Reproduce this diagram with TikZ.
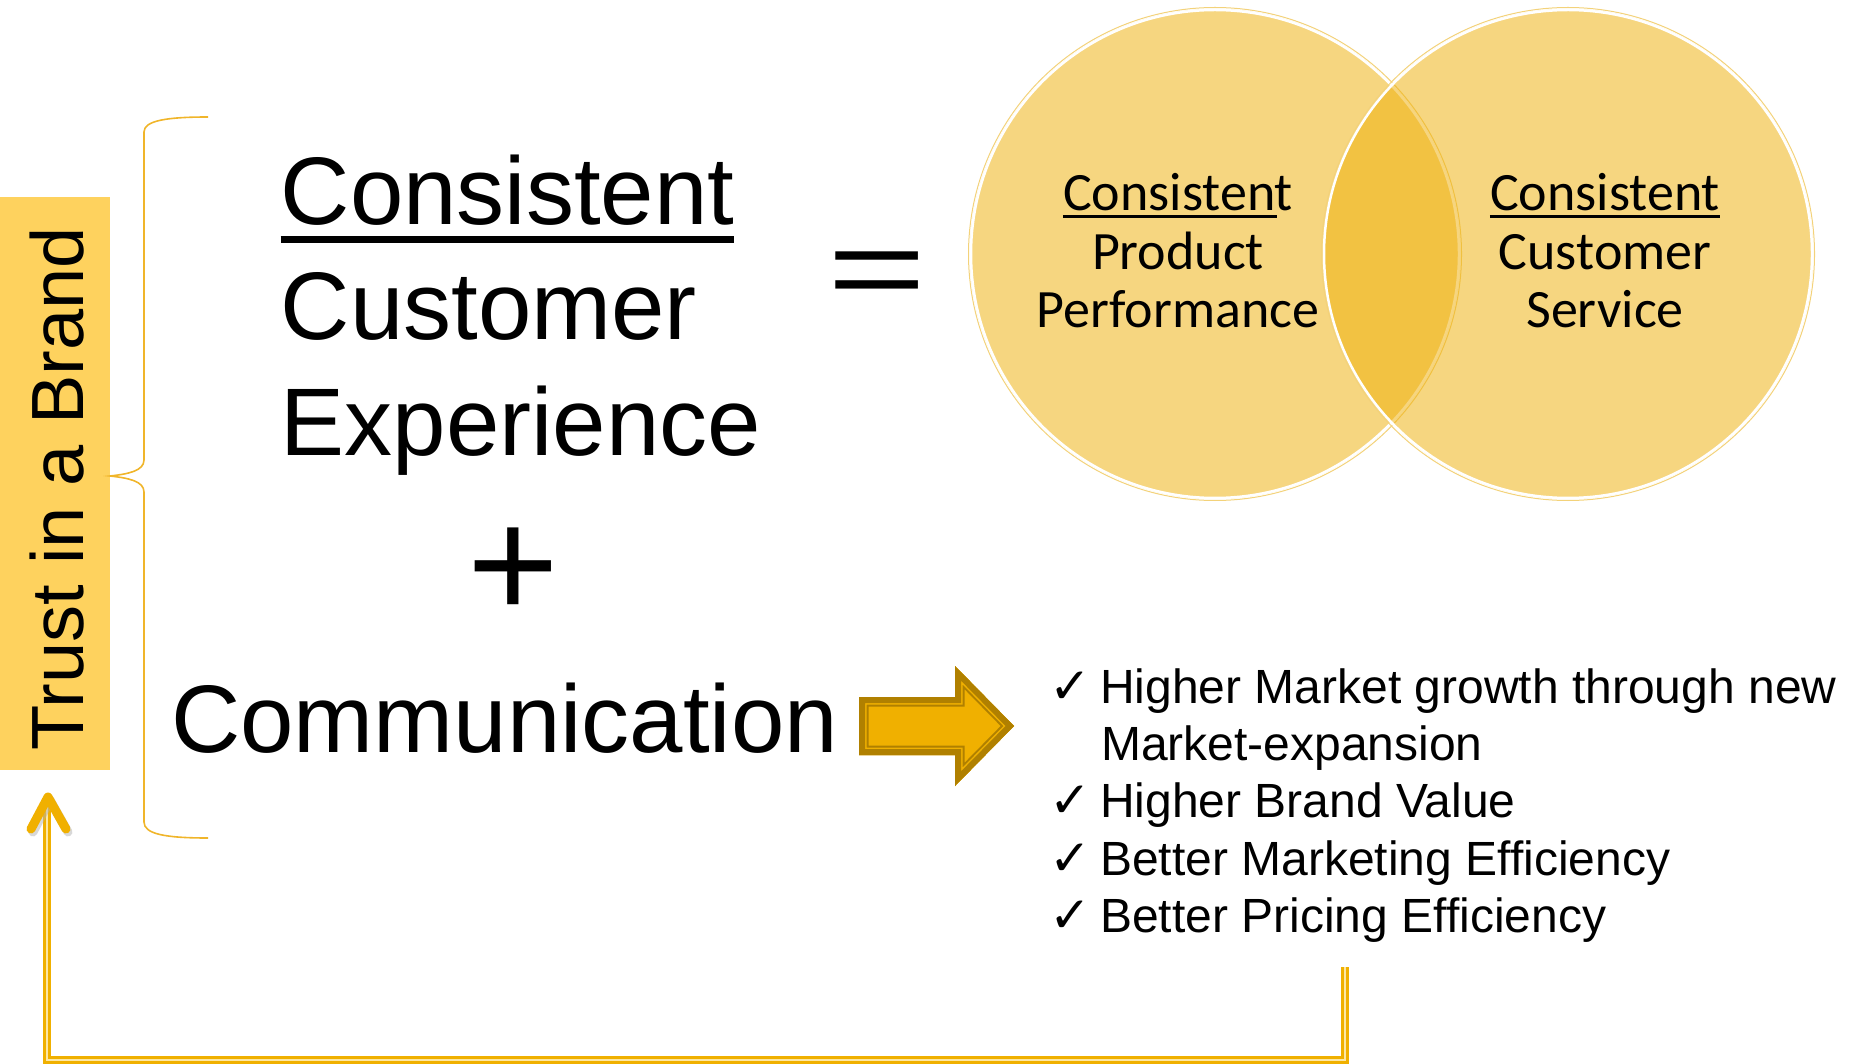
\documentclass[tikz,border=0pt]{standalone}
\usepackage{fontspec}
\setmainfont{Liberation Sans}
\newfontfamily\calibri{Carlito}
\newfontfamily\symfont{DejaVu Sans}
\usetikzlibrary{calc}
\definecolor{trustfill}{HTML}{FED25E}
\definecolor{bracecol}{HTML}{F0B52A}
\definecolor{venn}{RGB}{238,176,11}
\definecolor{vennring}{HTML}{F3D27A}
\definecolor{gold}{HTML}{F0B000}
\definecolor{golddark}{HTML}{B08000}
\definecolor{goldpale}{HTML}{FCE7A6}

\begin{document}
\begin{tikzpicture}[x=1pt,y=-1pt,
  big/.style={font=\fontsize{96}{115}\selectfont, inner sep=0pt, anchor=base west},
  venntext/.style={font=\calibri\fontsize{54}{58}\selectfont, inner sep=0pt, anchor=base},
  item/.style={font=\fontsize{48}{57}\selectfont, inner sep=0pt, anchor=base west},
  tick/.style={font=\symfont\bfseries\fontsize{50}{50}\selectfont, inner sep=0pt, anchor=base west},
  feedback/.style={gold, line width=3.5pt, double=goldpale, double distance=1.2pt},
  headstroke/.style={line width=9pt, line cap=round, line join=round}]

\useasboundingbox (0,0) rectangle (1855,1064);

% vertical label box
\node[fill=trustfill, minimum width=110pt, minimum height=573pt, inner sep=0pt,
      anchor=north west] (trustbox) at (0,197) {};
\node[rotate=90, anchor=base, font=\fontsize{74}{74}\selectfont, inner sep=0pt]
      (trust) at (83,489) {Trust in a Brand};

% brace grouping the two terms
\coordinate (bracetip) at (110,476);
\draw[bracecol, line width=1.6pt]
  (208,117) .. controls (165,117) and (144,121) .. (144,132) -- (144,460)
  .. controls (144,471) and (128,474) .. (bracetip)
  .. controls (128,478) and (144,481) .. (144,492) -- (144,822)
  .. controls (144,834) and (165,838) .. (208,838);

% left-hand terms
\node[big] (cons) at (280.5,225) {Consistent};
\draw[line width=6.5pt] ($(cons.base west)+(0,14.5)$) -- ($(cons.base east)+(0,14.5)$);
\node[big] (cust) at (280.5,340) {Customer};
\node[big] (expe) at (280.5,455) {Experience};
\node[font=\fontsize{157}{157}\selectfont, inner sep=0pt, anchor=base] (plus) at (513,618) {+};
\node[big] (comm) at (171,752) {Communication};
\node[font=\fontsize{170}{170}\selectfont, inner sep=0pt, anchor=base, yscale=0.68] (eq) at (877,308.5) {=};

% Venn diagram
\draw[vennring, line width=1pt] (1215,254) circle (246.5);
\fill[venn, opacity=0.52] (1215,254) circle (245);
\draw[white, line width=2.5pt] (1215,254) circle (244);
\draw[vennring, line width=1pt] (1568,254) circle (246.5);
\fill[venn, opacity=0.52] (1568,254) circle (245);
\draw[white, line width=2.5pt] (1568,254) circle (244);

\node[venntext] (pc) at (1178,211) {Consistent};
\node[venntext] (pp) at (1178,270) {Product};
\node[venntext] (pf) at (1178,328) {Performance};
\draw[line width=3.8pt] ($(pc.base west)+(0,5.5)$) -- ($(pc.base east)+(-16,5.5)$);

\node[venntext] (sc) at (1605,211) {Consistent};
\node[venntext] (sp) at (1605,270) {Customer};
\node[venntext] (sf) at (1605,328) {Service};
\draw[line width=3.8pt] ($(sc.base west)+(0,5.5)$) -- ($(sc.base east)+(0,5.5)$);

% block arrow towards the outcomes
\def\blockarrow{(859,697) -- (955,697) -- (955,666) -- (1014,726) -- (955,786) -- (955,755) -- (859,755) -- cycle}
\begin{scope}
  \clip \blockarrow;
  \fill[gold] \blockarrow;
  \draw[golddark, line width=19pt, line join=miter] \blockarrow;
  \draw[gold, line width=15pt, line join=miter] \blockarrow;
  \draw[golddark, line width=12pt, line join=miter] \blockarrow;
\end{scope}

% outcomes
\node[tick] (t1) at (1049,703) {✓};
\node[item] (i1) at (1100,703) {Higher Market growth through new};
\node[item] (i1b) at (1101,760) {Market-expansion};
\node[tick] (t2) at (1049,817) {✓};
\node[item] (i2) at (1100,817) {Higher Brand Value};
\node[tick] (t3) at (1049,875) {✓};
\node[item] (i3) at (1100,875) {Better Marketing Efficiency};
\node[tick] (t4) at (1049,932) {✓};
\node[item] (i4) at (1100,932) {Better Pricing Efficiency};

% feedback loop back to the label
\coordinate (fbs) at (1345,967);
\coordinate (fbc) at (47,1060);
\coordinate (fbt) at (47,800);
\draw[feedback] (fbs) |- (fbc) -- (fbt);
\draw[headstroke, black!30, opacity=0.5] (33,832) -- (50,800) -- (68,832);
\draw[headstroke, gold] (31,829) -- (48,797) -- (66,829);

\end{tikzpicture}
\end{document}
